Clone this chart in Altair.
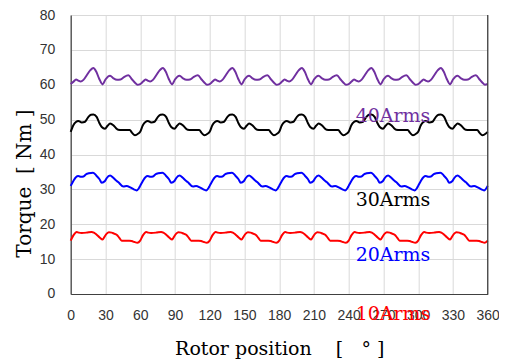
import altair as alt
import pandas as pd

# One 60-degree period of each torque curve (deg offset, Nm)
series_names = ["40Arms", "30Arms", "20Arms", "10Arms"]
series_colors = ["#7030A0", "#000000", "#0000FF", "#FF0000"]

deg_40 = [0, 2.5, 4.6, 6.5, 8.6, 11, 14, 17, 19.6, 22, 24.5, 27.6, 30, 34, 37, 40, 43, 46, 49.8, 53, 55.5, 57.6]
val_40 = [60.2, 60.9, 61.5, 61.2, 60.9, 61.4, 62.8, 64.2, 64.8, 63.8, 61.8, 60.1, 61.5, 62.6, 61.8, 61.4, 61.5, 62.2, 62.7, 61.5, 60.6, 60.0]

deg_30 = [0, 2.3, 4.5, 6.6, 9.5, 12.4, 15.3, 17.5, 19.6, 22.4, 24.5, 26.8, 29.6, 32, 34, 36.8, 39, 41, 44, 47, 51, 53, 55.5, 58.4]
val_30 = [46.5, 48.4, 49.3, 49.6, 49.2, 49.4, 50.8, 51.4, 51.5, 50.8, 49.2, 47.9, 47.4, 48.3, 48.9, 48.4, 47.6, 47.1, 47.0, 47.0, 47.0, 46.2, 45.5, 46.0]

deg_20 = [0, 2.3, 4.5, 6.6, 9, 11, 13.5, 15.5, 19.2, 22, 24.9, 26.8, 29.6, 31, 34, 36.8, 39, 41, 45.5, 48.3, 51.8, 54.5, 56.9, 59]
val_20 = [31.0, 32.4, 33.5, 33.8, 33.6, 33.7, 34.4, 34.6, 34.8, 34.0, 32.9, 31.9, 32.4, 33.2, 34.0, 33.3, 32.6, 32.1, 30.8, 31.0, 30.5, 30.0, 29.7, 30.4]

deg_10 = [0, 2.3, 5.2, 7, 9.5, 13.8, 18.1, 20, 22.4, 25, 27.6, 29, 31.1, 33, 35.4, 37.5, 39.7, 42, 44, 48.3, 50.5, 52.7, 55, 57.6]
val_10 = [15.3, 16.8, 17.8, 17.6, 17.5, 17.6, 17.8, 17.6, 17.0, 16.2, 15.6, 16.3, 17.3, 17.7, 17.6, 17.3, 17.0, 16.1, 15.3, 15.3, 15.3, 15.2, 14.9, 14.7]

period_count = 6
period_len = 60

x_ticks = [0, 30, 60, 90, 120, 150, 180, 210, 240, 270, 300, 330, 360]
y_ticks = [0, 10, 20, 30, 40, 50, 60, 70, 80]

label_x = [246, 246, 246, 246]
label_y = [49.2, 25.2, 9.6, -7.4]

rows = []
for name, degs, vals in zip(series_names, [deg_40, deg_30, deg_20, deg_10], [val_40, val_30, val_20, val_10]):
    for k in range(period_count):
        for d, v in zip(degs, vals):
            rows.append({"series": name, "deg": k * period_len + d, "torque": v})
    rows.append({"series": name, "deg": period_count * period_len, "torque": vals[0]})
df = pd.DataFrame(rows)

labels = pd.DataFrame({"series": series_names, "deg": label_x, "torque": label_y})
border = pd.DataFrame({"deg": [360]})

color = alt.Color("series:N", scale=alt.Scale(domain=series_names, range=series_colors), legend=None)
xs = alt.Scale(domain=[0, 360], nice=False)
ys = alt.Scale(domain=[0, 80], nice=False)

x_axis = alt.Axis(
    values=x_ticks, title="Rotor position\u00a0\u00a0\u00a0\u00a0[\u00a0\u00a0\u00a0°\u00a0]",
    titleFont="DejaVu Serif", titleFontSize=19, titleFontWeight="normal", titleColor="#000000",
    titleY=61, titleBaseline="alphabetic",
    labelFont="Liberation Sans", labelFontSize=14, labelColor="#333333",
    labelPadding=15, ticks=False, domainColor="#404040", domainWidth=1.2,
    gridColor="#d9d9d9", labelFlush=False, labelOverlap=False,
)
y_axis = alt.Axis(
    values=y_ticks, title="Torque\u00a0\u00a0[\u00a0Nm\u00a0]",
    titleFont="DejaVu Serif", titleFontSize=20, titleFontWeight="normal", titleColor="#000000",
    titleX=-46, titleY=168, titleBaseline="middle", titleAlign="center", titleAngle=270,
    labelFont="Liberation Sans", labelFontSize=14, labelColor="#333333",
    labelPadding=16, ticks=False, domainColor="#404040", domainWidth=1.2,
    gridColor="#d9d9d9", labelFlush=False, labelOverlap=False,
)

lines = alt.Chart(df).mark_line(strokeWidth=2, interpolate="monotone").encode(
    x=alt.X("deg:Q", scale=xs, axis=x_axis),
    y=alt.Y("torque:Q", scale=ys, axis=y_axis),
    color=color, detail="series:N",
)

right_border = alt.Chart(border).mark_rule(color="#404040", strokeWidth=1.2).encode(
    x=alt.X("deg:Q", scale=xs, axis=x_axis)
)

texts = alt.Chart(labels).mark_text(
    font="DejaVu Serif", fontSize=19, align="left", baseline="alphabetic"
).encode(
    x=alt.X("deg:Q", scale=xs, axis=x_axis),
    y=alt.Y("torque:Q", scale=ys, axis=y_axis),
    text="series:N",
    color=color,
)

chart = alt.layer(lines, right_border, texts).properties(
    width=417, height=279,
    autosize=alt.AutoSizeParams(type="none"),
    padding={"left": 62.7, "top": 7, "right": 11, "bottom": 68},
).configure_view(stroke=None).configure(background="white")

chart.save("out.html", embed_options={"renderer": "svg", "actions": False})
